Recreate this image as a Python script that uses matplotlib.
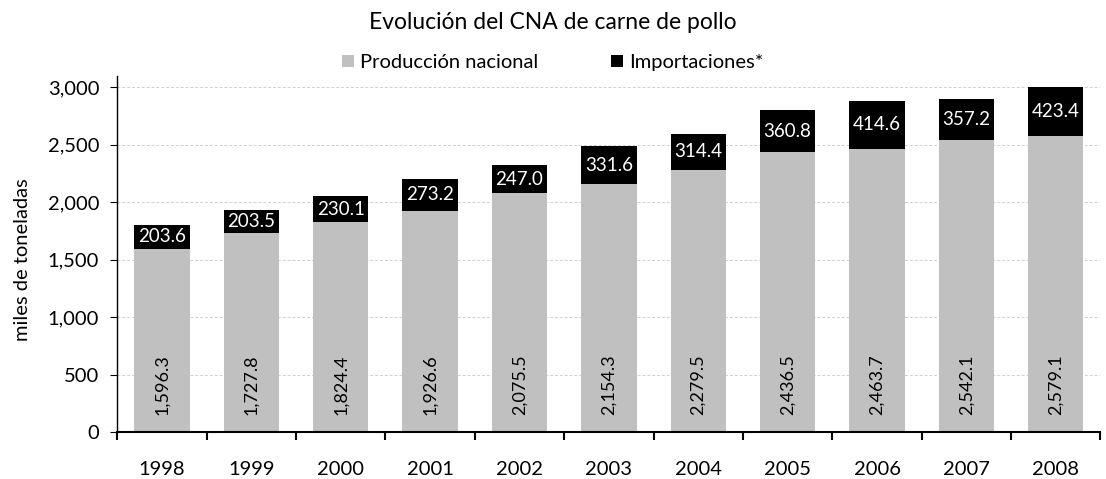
import numpy as np
import matplotlib.pyplot as plt

# Data
years = ['1998', '1999', '2000', '2001', '2002', '2003', '2004', '2005', '2006', '2007', '2008']
produccion = [1596.3, 1727.8, 1824.4, 1926.6, 2075.5, 2154.3, 2279.5, 2436.5, 2463.7, 2542.1, 2579.1]
importaciones = [203.6, 203.5, 230.1, 273.2, 247.0, 331.6, 314.4, 360.8, 414.6, 357.2, 423.4]

plt.rcParams['font.family'] = ['Lato', 'DejaVu Sans']

fig = plt.figure(figsize=(11.06, 4.79), dpi=100)
ax = fig.add_axes([0.106, 0.098, 0.889, 0.72])

x = np.arange(len(years))
width = 0.62
ax.bar(x, produccion, width, color='#c0c0c0', label='Producción nacional', zorder=2)
ax.bar(x, importaciones, width, bottom=produccion, color='black', label='Importaciones*', zorder=2)

ymax = 3000
for i in range(len(years)):
    ax.text(x[i], 150, f'{produccion[i]:,.1f}', rotation=90, ha='center', va='bottom',
            fontsize=13, color='black', zorder=3)
    top = min(produccion[i] + importaciones[i], ymax)
    ax.text(x[i], (produccion[i] + top) / 2, f'{importaciones[i]:.1f}', ha='center', va='center',
            fontsize=13.5, color='white', zorder=3)

ax.set_ylim(0, ymax)
ax.set_xlim(-0.5, len(years) - 0.5)
ax.set_yticks(range(0, 3001, 500))
ax.set_yticklabels([f'{v:,}' for v in range(0, 3001, 500)])
ax.set_xticks(x)
ax.set_xticklabels(years)
ax.set_xticks(np.arange(-0.5, len(years)), minor=True)
ax.tick_params(axis='x', which='major', length=0, pad=21, labelsize=14.5)
ax.tick_params(axis='x', which='minor', length=6, width=1.5, direction='out')
ax.tick_params(axis='y', length=5, pad=8, labelsize=14.5)
ax.set_ylabel('miles de toneladas', fontsize=14.5)
ax.yaxis.set_label_coords(-0.088, 0.5)

ax.yaxis.grid(True, color='#d0d0d0', linestyle=(0, (3, 2)), linewidth=0.7, zorder=0)
for v in ax.get_ygridlines()[:1]:
    v.set_visible(False)

ax.spines['top'].set_visible(False)
ax.spines['right'].set_visible(False)
ax.spines['bottom'].set_linewidth(1.5)
ax.spines['left'].set_linewidth(1.0)
ax.spines['left'].set_bounds(0, 3100)

fig.suptitle('Evolución del CNA de carne de pollo', y=0.975, fontsize=16.5)
fig.legend(loc='upper center', bbox_to_anchor=(0.5, 0.925), ncol=2, frameon=False,
           fontsize=14.5, handlelength=0.6, handleheight=0.6, handletextpad=0.3,
           columnspacing=3.6)

plt.savefig('out.png')
